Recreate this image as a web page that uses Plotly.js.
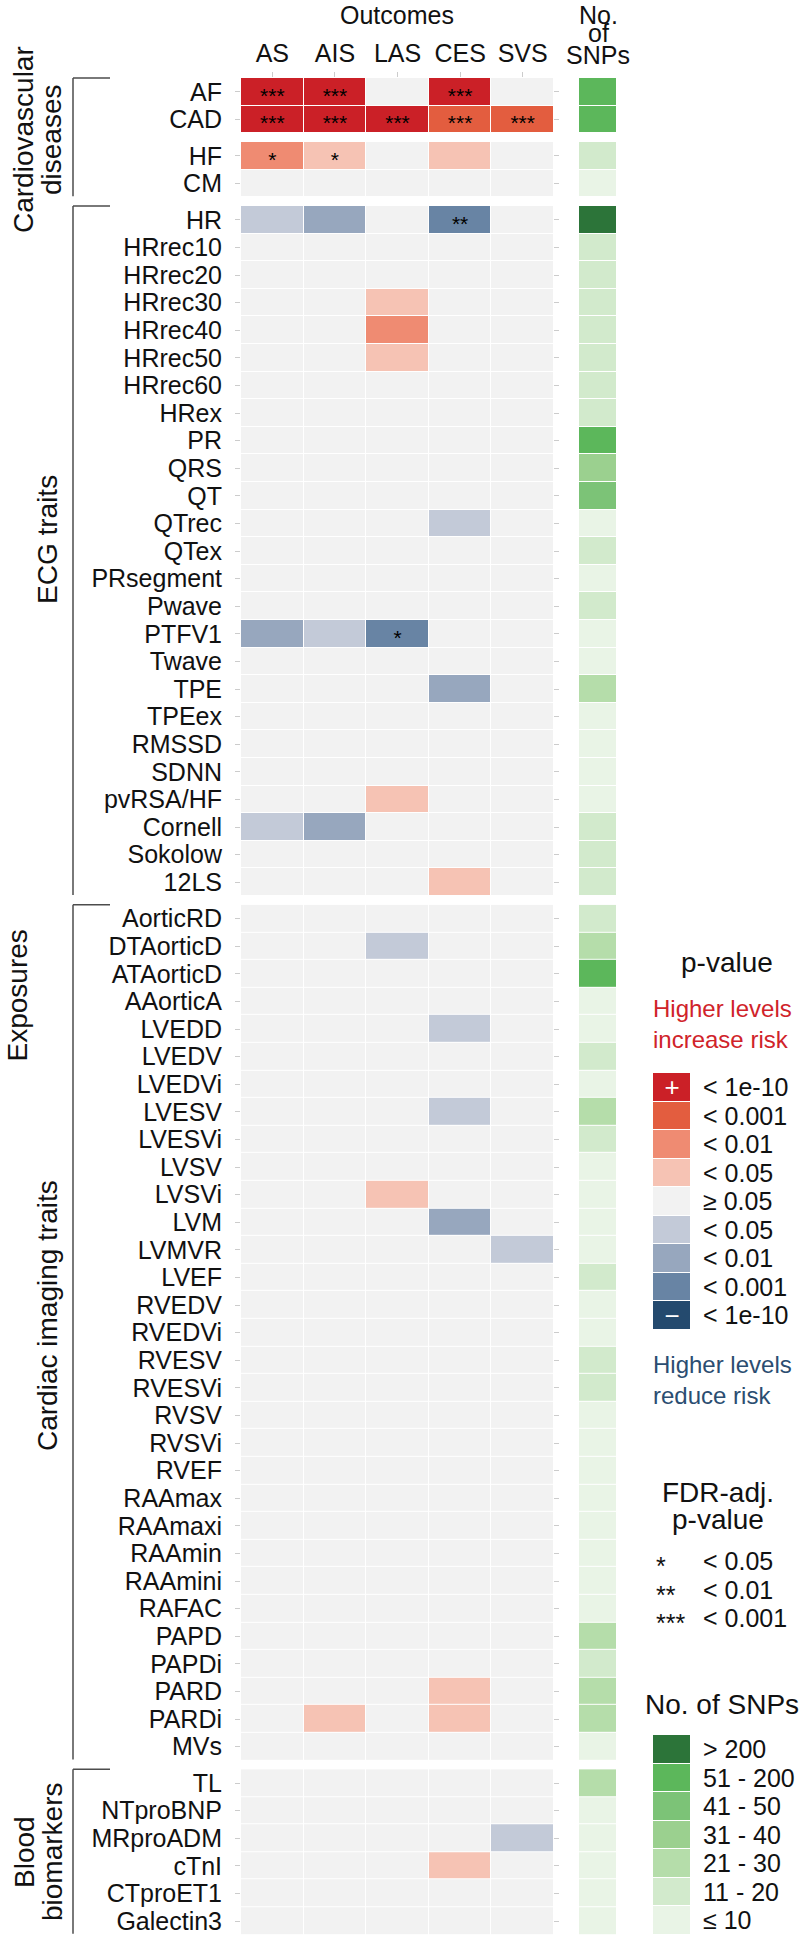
<!DOCTYPE html>
<html>
<head>
<meta charset="utf-8">
<script src="https://cdn.plot.ly/plotly-3.0.1.min.js"></script>
<style>
html,body{margin:0;padding:0;background:#fff;}
#chart{width:800px;height:1935px;}
</style>
</head>
<body>
<div id="chart"></div>
<script>
// ---------------- DATA ----------------
const outcomes = ['AS', 'AIS', 'LAS', 'CES', 'SVS'];

// p-value class: +4 <1e-10 (increase), +3 <0.001, +2 <0.01, +1 <0.05, 0 >=0.05, -1..-4 (reduce)
// significance: number of FDR stars

const cvdRowsA = ['AF', 'CAD'];
const cvdPA = [[4, 4, 0, 4, 0], [4, 4, 4, 3, 3]];
const cvdSigA = [[3, 3, 0, 3, 0], [3, 3, 3, 3, 3]];
const cvdSnpA = [5, 5];

const cvdRowsB = ['HF', 'CM'];
const cvdPB = [[2, 1, 0, 1, 0], [0, 0, 0, 0, 0]];
const cvdSigB = [[1, 1, 0, 0, 0], [0, 0, 0, 0, 0]];
const cvdSnpB = [1, 0];

const ecgRows = ['HR', 'HRrec10', 'HRrec20', 'HRrec30', 'HRrec40', 'HRrec50', 'HRrec60', 'HRex', 'PR', 'QRS', 'QT', 'QTrec', 'QTex', 'PRsegment', 'Pwave', 'PTFV1', 'Twave', 'TPE', 'TPEex', 'RMSSD', 'SDNN', 'pvRSA/HF', 'Cornell', 'Sokolow', '12LS'];
const ecgP = [
  [-1, -2, 0, -3, 0], [0, 0, 0, 0, 0], [0, 0, 0, 0, 0], [0, 0, 1, 0, 0], [0, 0, 2, 0, 0],
  [0, 0, 1, 0, 0], [0, 0, 0, 0, 0], [0, 0, 0, 0, 0], [0, 0, 0, 0, 0], [0, 0, 0, 0, 0],
  [0, 0, 0, 0, 0], [0, 0, 0, -1, 0], [0, 0, 0, 0, 0], [0, 0, 0, 0, 0], [0, 0, 0, 0, 0],
  [-2, -1, -3, 0, 0], [0, 0, 0, 0, 0], [0, 0, 0, -2, 0], [0, 0, 0, 0, 0], [0, 0, 0, 0, 0],
  [0, 0, 0, 0, 0], [0, 0, 1, 0, 0], [-1, -2, 0, 0, 0], [0, 0, 0, 0, 0], [0, 0, 0, 1, 0]
];
const ecgSig = [
  [0, 0, 0, 2, 0], [0, 0, 0, 0, 0], [0, 0, 0, 0, 0], [0, 0, 0, 0, 0], [0, 0, 0, 0, 0],
  [0, 0, 0, 0, 0], [0, 0, 0, 0, 0], [0, 0, 0, 0, 0], [0, 0, 0, 0, 0], [0, 0, 0, 0, 0],
  [0, 0, 0, 0, 0], [0, 0, 0, 0, 0], [0, 0, 0, 0, 0], [0, 0, 0, 0, 0], [0, 0, 0, 0, 0],
  [0, 0, 1, 0, 0], [0, 0, 0, 0, 0], [0, 0, 0, 0, 0], [0, 0, 0, 0, 0], [0, 0, 0, 0, 0],
  [0, 0, 0, 0, 0], [0, 0, 0, 0, 0], [0, 0, 0, 0, 0], [0, 0, 0, 0, 0], [0, 0, 0, 0, 0]
];
const ecgSnp = [6, 1, 1, 1, 1, 1, 1, 1, 5, 3, 4, 0, 1, 0, 1, 0, 0, 2, 0, 0, 0, 0, 1, 1, 1];

const imgRows = ['AorticRD', 'DTAorticD', 'ATAorticD', 'AAorticA', 'LVEDD', 'LVEDV', 'LVEDVi', 'LVESV', 'LVESVi', 'LVSV', 'LVSVi', 'LVM', 'LVMVR', 'LVEF', 'RVEDV', 'RVEDVi', 'RVESV', 'RVESVi', 'RVSV', 'RVSVi', 'RVEF', 'RAAmax', 'RAAmaxi', 'RAAmin', 'RAAmini', 'RAFAC', 'PAPD', 'PAPDi', 'PARD', 'PARDi', 'MVs'];
const imgP = [
  [0, 0, 0, 0, 0], [0, 0, -1, 0, 0], [0, 0, 0, 0, 0], [0, 0, 0, 0, 0], [0, 0, 0, -1, 0],
  [0, 0, 0, 0, 0], [0, 0, 0, 0, 0], [0, 0, 0, -1, 0], [0, 0, 0, 0, 0], [0, 0, 0, 0, 0],
  [0, 0, 1, 0, 0], [0, 0, 0, -2, 0], [0, 0, 0, 0, -1], [0, 0, 0, 0, 0], [0, 0, 0, 0, 0],
  [0, 0, 0, 0, 0], [0, 0, 0, 0, 0], [0, 0, 0, 0, 0], [0, 0, 0, 0, 0], [0, 0, 0, 0, 0],
  [0, 0, 0, 0, 0], [0, 0, 0, 0, 0], [0, 0, 0, 0, 0], [0, 0, 0, 0, 0], [0, 0, 0, 0, 0],
  [0, 0, 0, 0, 0], [0, 0, 0, 0, 0], [0, 0, 0, 0, 0], [0, 0, 0, 1, 0], [0, 1, 0, 1, 0],
  [0, 0, 0, 0, 0]
];
const imgSnp = [1, 2, 5, 0, 0, 1, 0, 2, 1, 0, 0, 0, 0, 1, 0, 0, 1, 1, 0, 0, 0, 0, 0, 0, 0, 0, 2, 1, 2, 2, 0];

const bloodRows = ['TL', 'NTproBNP', 'MRproADM', 'cTnI', 'CTproET1', 'Galectin3'];
const bloodP = [[0, 0, 0, 0, 0], [0, 0, 0, 0, 0], [0, 0, 0, 0, -1], [0, 0, 0, 1, 0], [0, 0, 0, 0, 0], [0, 0, 0, 0, 0]];
const bloodSnp = [2, 0, 0, 0, 0, 0];

const groupNames = [['Cardiovascular', 'diseases'], ['ECG traits'], ['Cardiac imaging traits'], ['Blood', 'biomarkers']];

const pLegendLabels = ['< 1e-10', '< 0.001', '< 0.01', '< 0.05', '\u2265 0.05', '< 0.05', '< 0.01', '< 0.001', '< 1e-10'];
const pLegendClasses = [4, 3, 2, 1, 0, -1, -2, -3, -4];
const snpLegendLabels = ['> 200', '51 - 200', '41 - 50', '31 - 40', '21 - 30', '11 - 20', '\u2264 10'];
const snpLegendClasses = [6, 5, 4, 3, 2, 1, 0];
const fdrStars = [1, 2, 3];
const fdrLabels = ['< 0.05', '< 0.01', '< 0.001'];

// ---------------- STYLE ----------------
const W = 800, H = 1935;
const FONT = 'Liberation Sans, Arial, Helvetica, sans-serif';
const pColors = ['#244A6E', '#6884A4', '#97A7BE', '#C3CAD8', '#F2F2F2', '#F6C3B4', '#EF8B72', '#E35D3F', '#CB2027'];
const snpColors = ['#E9F4E6', '#D2EACC', '#B5DDAA', '#9BD08F', '#7CC377', '#5CB75B', '#2C7439'];
function discreteScale(cols) {
  const n = cols.length, s = [];
  cols.forEach((c, i) => { s.push([i / n, c]); s.push([(i + 1) / n, c]); });
  return s;
}
const pScale = discreteScale(pColors);
const snpScale = discreteScale(snpColors);
const px = x => x / W;
const py = y => 1 - y / H;
const stars = n => '*'.repeat(n);
const STAR_DROP = 0.2; // asterisks sit high in the font; nudge them to the cell centre

const zeros = (r, c) => Array.from({length: r}, () => Array(c).fill(0));
const panels = [
  {rows: cvdRowsA, p: cvdPA, sig: cvdSigA, snp: cvdSnpA},
  {rows: cvdRowsB, p: cvdPB, sig: cvdSigB, snp: cvdSnpB},
  {rows: ecgRows, p: ecgP, sig: ecgSig, snp: ecgSnp},
  {rows: imgRows, p: imgP, sig: zeros(imgRows.length, 5), snp: imgSnp},
  {rows: bloodRows, p: bloodP, sig: zeros(bloodRows.length, 5), snp: bloodSnp}
];

const rowH = 27.6, gap = 8.8, top0 = 78;
const traces = [];
const layout = {
  width: W, height: H,
  margin: {l: 0, r: 0, t: 0, b: 0},
  paper_bgcolor: '#fff', plot_bgcolor: '#fff',
  font: {family: FONT, size: 25, color: '#111'},
  showlegend: false,
  annotations: [], shapes: []
};

layout.xaxis = {
  domain: [px(241), px(554)], anchor: 'y', side: 'top', type: 'category',
  ticks: 'outside', ticklen: 5, tickcolor: '#cccccc', tickwidth: 1,
  showgrid: false, zeroline: false, showline: false, ticklabelstandoff: 0,
  tickfont: {family: FONT, size: 25, color: '#111'}, fixedrange: true
};
layout.xaxis2 = {
  domain: [px(560), px(635)], anchor: 'y6', range: [-1.0135, 1.0135],
  showticklabels: false, ticks: '', showgrid: false, zeroline: false, showline: false, fixedrange: true
};

let t = top0;
const tops = [], bottoms = [];
panels.forEach((pn, i) => {
  const n = pn.rows.length;
  const top = t, bottom = t + n * rowH;
  tops.push(top); bottoms.push(bottom);
  t = bottom + gap;
  const idx = Array.from({length: n}, (_, k) => k);
  const ya = i + 1, ys = i + 6;
  const yName = 'y' + (ya === 1 ? '' : ya);
  layout['yaxis' + (ya === 1 ? '' : ya)] = {
    domain: [py(bottom), py(top)], anchor: 'x', range: [n - 0.5, -0.5],
    tickvals: idx, ticktext: pn.rows, ticks: 'outside', ticklen: 5, tickcolor: '#cccccc', tickwidth: 1,
    showgrid: false, zeroline: false, showline: false, ticklabelstandoff: 8,
    tickfont: {family: FONT, size: 25, color: '#111'}, fixedrange: true
  };
  layout['yaxis' + ys] = {
    domain: [py(bottom), py(top)], anchor: 'x2', range: [n - 0.5, -0.5],
    tickvals: idx, showticklabels: false, ticks: 'outside', ticklen: 5, tickcolor: '#cccccc', tickwidth: 1,
    showgrid: false, zeroline: false, showline: false, fixedrange: true
  };
  traces.push({
    type: 'heatmap', x: outcomes, y: idx, z: pn.p,
    colorscale: pScale, zmin: -4.5, zmax: 4.5, showscale: false,
    xgap: 1, ygap: 1, hoverinfo: 'skip',
    xaxis: 'x', yaxis: yName
  });
  // FDR stars
  const sx = [], sy = [], st = [];
  pn.sig.forEach((row, r) => row.forEach((s, c) => {
    if (s > 0) { sx.push(outcomes[c]); sy.push(r + STAR_DROP); st.push(stars(s)); }
  }));
  if (sx.length) {
    traces.push({
      type: 'scatter', mode: 'text', x: sx, y: sy, text: st, textposition: 'middle center',
      textfont: {family: FONT, size: 21, color: '#000'}, hoverinfo: 'skip',
      xaxis: 'x', yaxis: yName
    });
  }
  traces.push({
    type: 'heatmap', x: [0], y: idx, z: pn.snp.map(v => [v]),
    colorscale: snpScale, zmin: -0.5, zmax: 6.5, showscale: false,
    xgap: 0, ygap: 1, hoverinfo: 'skip',
    xaxis: 'x2', yaxis: 'y' + ys
  });
});

// legends drawn as heatmaps
layout.xaxis3 = {domain: [px(653), px(690)], anchor: 'y11', range: [-0.5, 0.5], visible: false, fixedrange: true};
layout.yaxis11 = {
  domain: [py(1330), py(1073)], anchor: 'x3', side: 'right', range: [8.5, -0.5],
  tickvals: pLegendClasses.map((_, i) => i), ticktext: pLegendLabels, ticks: '',
  showgrid: false, zeroline: false, showline: false, ticklabelstandoff: 12,
  tickfont: {family: FONT, size: 25, color: '#111'}, fixedrange: true
};
traces.push({
  type: 'heatmap', x: [0], y: pLegendClasses.map((_, i) => i), z: pLegendClasses.map(v => [v]),
  text: pLegendClasses.map(v => [v === 4 ? '+' : (v === -4 ? '\u2212' : '')]), texttemplate: '%{text}',
  textfont: {family: FONT, size: 26, color: '#fff'},
  colorscale: pScale, zmin: -4.5, zmax: 4.5, showscale: false, ygap: 1, hoverinfo: 'skip',
  xaxis: 'x3', yaxis: 'y11'
});
layout.xaxis4 = {domain: [px(653), px(690)], anchor: 'y12', range: [-0.5, 0.5], visible: false, fixedrange: true};
layout.yaxis12 = {
  domain: [py(1935), py(1735)], anchor: 'x4', side: 'right', range: [6.5, -0.5],
  tickvals: snpLegendClasses.map((_, i) => i), ticktext: snpLegendLabels, ticks: '',
  showgrid: false, zeroline: false, showline: false, ticklabelstandoff: 12,
  tickfont: {family: FONT, size: 25, color: '#111'}, fixedrange: true
};
traces.push({
  type: 'heatmap', x: [0], y: snpLegendClasses.map((_, i) => i), z: snpLegendClasses.map(v => [v]),
  colorscale: snpScale, zmin: -0.5, zmax: 6.5, showscale: false, ygap: 1, hoverinfo: 'skip',
  xaxis: 'x4', yaxis: 'y12'
});

// ---------------- ANNOTATIONS ----------------
function ann(text, x, y, opts) {
  layout.annotations.push(Object.assign({
    text: text, x: px(x), y: py(y), xref: 'paper', yref: 'paper',
    showarrow: false, xanchor: 'center', yanchor: 'middle', borderpad: 0,
    font: {family: FONT, size: 25, color: '#111'}
  }, opts || {}));
}
ann('Outcomes', 397, 0, {yanchor: 'top'});
ann('No.', 598, 0, {yanchor: 'top'});
ann('of', 598, 33);
ann('SNPs', 598, 55);
ann('Exposures', 0, 996, {textangle: -90, xanchor: 'left', font: {family: FONT, size: 28, color: '#111'}});

// group brackets and labels
const groupSpans = [[tops[0], bottoms[1]], [tops[2], bottoms[2]], [tops[3], bottoms[3]], [tops[4], bottoms[4]]];
const groupLabelY = [140, 540, 1316, 1852];
groupSpans.forEach((sp, i) => {
  layout.shapes.push({type: 'line', xref: 'paper', yref: 'paper', x0: px(73), x1: px(73), y0: py(sp[0]), y1: py(sp[1] - 1), line: {color: '#4d4d4d', width: 1.5}});
  layout.shapes.push({type: 'line', xref: 'paper', yref: 'paper', x0: px(73), x1: px(110), y0: py(sp[0]), y1: py(sp[0]), line: {color: '#4d4d4d', width: 1.5}});
  const lines = groupNames[i];
  if (lines.length === 2) {
    ann(lines[0], 24, groupLabelY[i], {textangle: -90, font: {family: FONT, size: 28, color: '#111'}});
    ann(lines[1], 52, groupLabelY[i], {textangle: -90, font: {family: FONT, size: 28, color: '#111'}});
  } else {
    ann(lines[0], 47, groupLabelY[i], {textangle: -90, font: {family: FONT, size: 28, color: '#111'}});
  }
});

// legend titles
ann('p-value', 727, 963, {font: {family: FONT, size: 28, color: '#111'}});
ann('Higher levels', 652, 1008, {xanchor: 'left', font: {family: FONT, size: 24, color: '#D0232A'}});
ann('increase risk', 652, 1039, {xanchor: 'left', font: {family: FONT, size: 24, color: '#D0232A'}});
ann('Higher levels', 652, 1364, {xanchor: 'left', font: {family: FONT, size: 24, color: '#2B4D71'}});
ann('reduce risk', 652, 1395, {xanchor: 'left', font: {family: FONT, size: 24, color: '#2B4D71'}});
ann('FDR-adj.', 718, 1492, {font: {family: FONT, size: 28, color: '#111'}});
ann('p-value', 718, 1519, {font: {family: FONT, size: 28, color: '#111'}});
fdrStars.forEach((n, i) => {
  const y = 1561 + i * 28.5;
  ann(stars(n), 655, y, {xanchor: 'left', yshift: -5, font: {family: FONT, size: 25, color: '#111'}});
  ann(fdrLabels[i], 702, y, {xanchor: 'left'});
});
ann('No. of SNPs', 722, 1704, {font: {family: FONT, size: 28, color: '#111'}});

Plotly.newPlot('chart', traces, layout, {displayModeBar: false, staticPlot: true});
</script>
</body>
</html>
